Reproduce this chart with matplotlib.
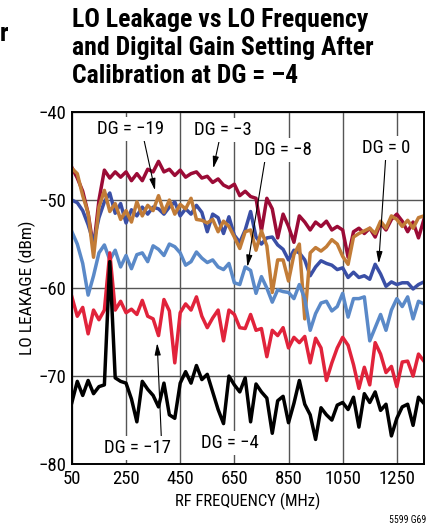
import numpy as np
import matplotlib.pyplot as plt
from matplotlib import font_manager

# pick a narrow face if one is installed
names = {f.name for f in font_manager.fontManager.ttflist}
face = 'Liberation Sans'
for cand in ['Liberation Sans Narrow', 'Roboto Condensed', 'Arial Narrow']:
    if cand in names:
        face = cand
        break
plt.rcParams['font.family'] = [face, 'DejaVu Sans']

freq = np.arange(50, 1351, 20)  # MHz

dg_m3 = [-46.3, -47.5, -49.0, -51.5, -55.5, -50.0, -46.6, -47.5, -46.8, -47.4,
         -46.8, -47.8, -47.0, -47.8, -46.5, -46.8, -45.6, -46.8, -46.5, -47.2,
         -46.6, -47.4, -47.0, -46.8, -47.5, -47.3, -48.0, -47.6, -48.3, -48.6,
         -48.2, -49.5, -49.0, -49.6, -49.8, -53.5, -49.8, -51.0, -54.3, -51.6,
         -53.0, -54.8, -51.8, -52.5, -53.4, -52.5, -53.0, -52.4, -53.4, -53.0,
         -53.4, -56.5, -53.6, -53.2, -53.8, -53.2, -54.2, -52.6, -53.4, -52.2,
         -51.6, -52.4, -53.6, -52.5, -54.3, -52.2]

dg_m19 = [-46.4, -47.0, -49.5, -51.5, -56.5, -50.8, -48.9, -51.3, -50.4, -52.2,
          -51.2, -52.5, -50.2, -51.8, -50.6, -51.2, -49.5, -51.4, -50.0, -51.6,
          -50.5, -51.0, -49.8, -52.2, -52.3, -52.6, -52.2, -53.6, -52.4, -53.0,
          -54.2, -55.5, -53.6, -53.4, -55.7, -53.5, -55.2, -60.5, -56.8, -56.8,
          -59.2, -56.2, -55.0, -63.5, -56.0, -55.4, -55.8, -55.3, -54.5, -55.0,
          -56.4, -57.3, -54.2, -53.8, -53.5, -53.2, -53.8, -52.4, -53.2, -51.8,
          -52.2, -53.0, -52.3, -53.2, -52.0, -51.8]

dg_0 = [-50.0, -50.3, -51.2, -52.8, -54.8, -52.0, -50.2, -49.2, -51.5, -50.4,
        -52.6, -51.1, -51.8, -50.8, -51.6, -50.8, -51.0, -51.6, -50.8, -50.2,
        -51.8, -51.0, -51.6, -50.6, -51.4, -53.6, -51.6, -52.0, -53.8, -51.9,
        -54.0, -54.8, -53.4, -51.3, -54.2, -55.0, -54.3, -54.2, -55.1, -55.6,
        -56.8, -55.7, -56.0, -56.8, -58.6, -57.6, -56.9, -57.2, -57.4, -57.9,
        -57.7, -58.8, -58.2, -58.8, -58.6, -59.0, -57.3, -58.4, -59.8, -59.3,
        -59.6, -59.4, -59.4, -60.1, -59.6, -59.3]

dg_m8 = [-53.6, -55.0, -57.2, -60.8, -58.6, -56.0, -55.1, -56.8, -55.7, -57.6,
         -56.3, -57.8, -56.2, -56.0, -57.0, -55.2, -55.6, -56.3, -55.0, -55.3,
         -56.0, -57.4, -57.0, -55.9, -56.6, -57.1, -56.8, -57.6, -57.9, -57.2,
         -59.4, -59.6, -57.6, -58.0, -60.6, -58.7, -60.0, -61.6, -60.2, -60.4,
         -60.5, -61.2, -59.6, -61.2, -64.8, -62.9, -61.7, -61.5, -62.6, -62.1,
         -60.6, -63.3, -61.2, -61.2, -61.0, -66.0, -64.5, -63.0, -64.8, -62.5,
         -61.2, -62.1, -61.0, -63.5, -61.5, -61.8]

dg_m17 = [-61.0, -63.2, -62.2, -65.2, -62.5, -63.6, -62.5, -56.0, -62.5, -61.5,
          -62.8, -62.4, -63.0, -61.4, -63.2, -63.5, -65.4, -61.3, -62.6, -68.5,
          -62.8, -61.8, -62.5, -61.0, -63.2, -64.5, -63.4, -62.5, -66.0, -62.5,
          -63.0, -64.5, -64.6, -63.0, -64.8, -64.6, -67.8, -64.8, -65.4, -64.5,
          -66.8, -65.6, -66.2, -65.5, -68.5, -65.7, -66.8, -70.5, -68.5, -66.8,
          -65.6, -66.5, -68.7, -71.4, -69.0, -71.0, -66.2, -67.5, -69.6, -68.9,
          -71.2, -68.4, -68.3, -70.0, -67.5, -68.3]

dg_m4 = [-73.0, -70.6, -72.2, -70.5, -72.0, -71.2, -71.0, -57.0, -70.2, -70.6,
         -70.8, -72.6, -75.2, -70.6, -71.5, -72.2, -73.5, -70.8, -74.4, -74.8,
         -70.8, -69.5, -70.8, -68.8, -70.4, -69.8, -71.8, -73.8, -75.4, -70.0,
         -71.0, -71.8, -70.2, -75.2, -70.9, -71.8, -72.5, -76.5, -72.8, -72.3,
         -75.3, -73.1, -70.5, -73.2, -74.4, -77.2, -73.6, -74.4, -75.0, -73.3,
         -73.0, -73.8, -72.4, -75.8, -72.0, -73.0, -71.8, -73.9, -73.2, -76.8,
         -74.8, -73.5, -73.2, -75.6, -72.4, -73.1]

fig = plt.figure(figsize=(4.33, 5.31), dpi=100)
ax = fig.add_axes([0.166, 0.126, 0.813, 0.663])

ax.plot(freq, dg_m3, color='#9b0b36', lw=2.5)
ax.plot(freq, dg_0, color='#3a4fa6', lw=2.5)
ax.plot(freq, dg_m19, color='#c27c37', lw=2.5)
ax.plot(freq, dg_m8, color='#5a89c8', lw=2.5)
ax.plot(freq, dg_m17, color='#e1233b', lw=2.5)
ax.plot(freq, dg_m4, color='black', lw=2.5)

ax.set_xlim(50, 1350)
ax.set_ylim(-80, -40)
ax.set_xticks([50, 250, 450, 650, 850, 1050, 1250])
ax.set_yticks([-80, -70, -60, -50, -40])
ax.grid(True, color='#555555', lw=1.0)
ax.set_axisbelow(True)
ax.tick_params(length=0, labelsize=13.5, pad=4)
for s in ax.spines.values():
    s.set_linewidth(1.4)

ax.set_xlabel('RF FREQUENCY (MHz)', fontsize=12, labelpad=4)
ax.set_ylabel('LO LEAKAGE (dBm)', fontsize=12.5, labelpad=2)

arrow = dict(arrowstyle='-|>,head_length=0.7,head_width=0.18', color='black',
             lw=0.8, shrinkA=0, shrinkB=0, mutation_scale=10)
box = dict(boxstyle='square,pad=0.15', fc='white', ec='none')

# label text, text position, arrow tip, arrow start on text box
notes = [
    ('DG = −19', (265, -41.9), (357, -48.9), (0.7, 0.0)),
    ('DG = −3', (606, -42.05), (572, -46.4), (0.45, 0.0)),
    ('DG = −8', (828, -44.3), (698, -57.6), (0.2, 0.0)),
    ('DG = 0', (1209, -44.1), (1183, -57.2), (0.5, 0.0)),
    ('DG = −17', (294, -78.2), (365, -66.25), (0.85, 1.0)),
]
for txt, pos, tip, rp in notes:
    a = dict(arrow, relpos=rp)
    ax.annotate(txt, xy=tip, xytext=pos, ha='center', va='center', fontsize=13.5,
                bbox=box, arrowprops=a)
ax.text(635, -77.6, 'DG = −4', ha='center', va='center', fontsize=13.5, bbox=box)

fig.text(0.166, 0.984, 'LO Leakage vs LO Frequency\nand Digital Gain Setting After\nCalibration at DG = –4',
         ha='left', va='top', fontsize=18.5, fontweight='bold', linespacing=1.2)
fig.text(0.0, 0.958, 'r', ha='left', va='top', fontsize=18.5, fontweight='bold')
fig.text(0.985, 0.012, '5599 G69', ha='right', va='bottom', fontsize=7)

fig.savefig('out.png', dpi=100)
